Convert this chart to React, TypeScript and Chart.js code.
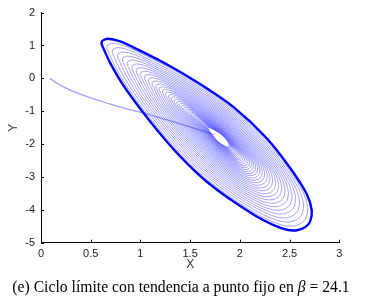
import React, { useEffect, useRef } from "react";
import { Chart, registerables } from "chart.js";

Chart.register(...registerables);

// Axis ticks
const xTicks = [0, 0.5, 1, 1.5, 2, 2.5, 3];
const yTicks = [-5, -4, -3, -2, -1, 0, 1, 2];

// Outer limit cycle, starting at the upper-left tip, clockwise
const limitCycleX = [0.619, 0.674, 0.795, 0.928, 1.264, 1.599, 1.934, 2.27, 2.504, 2.672, 2.723, 2.705, 2.655, 2.575, 2.474, 2.323, 2.152, 1.951, 1.75, 1.569, 1.398, 1.247, 1.096, 0.955, 0.815, 0.694, 0.634, 0.608];
const limitCycleY = [1.154, 1.205, 1.124, 0.944, 0.428, -0.172, -0.87, -1.821, -2.721, -3.519, -4.02, -4.365, -4.53, -4.62, -4.605, -4.44, -4.17, -3.78, -3.345, -2.88, -2.37, -1.86, -1.305, -0.75, -0.151, 0.479, 0.869, 1.064];

// Fixed point at the centre of the spiral
const fixedPointX = 1.8;
const fixedPointY = -1.8;

// Relative sizes of the spiral turns (1 = limit cycle), read along the ray to the lower-right tip
const turnScales = [0.955, 0.91, 0.866, 0.824, 0.784, 0.745, 0.708, 0.672, 0.638, 0.605, 0.573, 0.543, 0.514, 0.486, 0.46, 0.435, 0.411, 0.388, 0.366, 0.345, 0.325, 0.306, 0.288, 0.271, 0.255, 0.24, 0.226, 0.212, 0.199, 0.187, 0.175, 0.164, 0.153, 0.143, 0.133, 0.124, 0.116, 0.108, 0.101];

// Initial transient from (0.1, 0)
const approachX = [0.09, 0.171, 0.251, 0.342, 0.493, 0.661, 0.827, 1.046, 1.328, 1.599, 1.74];
const approachY = [0.0, -0.166, -0.3, -0.42, -0.585, -0.75, -0.9, -1.065, -1.32, -1.575, -1.71];

const inwardTicks = {
  id: "inwardTicks",
  afterDraw(chart: any) {
    const { ctx, chartArea, scales } = chart;
    ctx.save();
    ctx.strokeStyle = "#000";
    ctx.lineWidth = 1;
    ctx.beginPath();
    for (const v of xTicks) {
      const px = Math.round(scales.x.getPixelForValue(v)) + 0.5;
      ctx.moveTo(px, chartArea.bottom);
      ctx.lineTo(px, chartArea.bottom - 3);
    }
    for (const v of yTicks) {
      const py = Math.round(scales.y.getPixelForValue(v)) + 0.5;
      ctx.moveTo(chartArea.left, py);
      ctx.lineTo(chartArea.left + 3, py);
    }
    ctx.stroke();
    ctx.restore();
  },
};

export default function App() {
  const ref = useRef<HTMLCanvasElement | null>(null);

  useEffect(() => {
    if (!ref.current) return;
    Chart.defaults.font.family = "'Liberation Sans', Arial, sans-serif";

    const cycle = limitCycleX.map((x, i) => ({ x, y: limitCycleY[i] }));
    cycle.push({ x: limitCycleX[0], y: limitCycleY[0] });

    const turnSets = turnScales.map((s) => ({
      data: cycle.map((p) => ({
        x: fixedPointX + s * (p.x - fixedPointX),
        y: fixedPointY + s * (p.y - fixedPointY),
      })),
      borderColor: "rgba(30,30,255,0.45)",
      borderWidth: 0.9,
      pointRadius: 0,
      showLine: true,
      tension: 0.3,
      order: 3,
    }));

    const chart = new Chart(ref.current, {
      type: "scatter",
      data: {
        datasets: [
          {
            data: cycle,
            borderColor: "#0000ff",
            borderWidth: 2.4,
            pointRadius: 0,
            showLine: true,
            tension: 0.3,
            order: 1,
          },
          {
            data: approachX.map((x, i) => ({ x, y: approachY[i] })),
            borderColor: "rgba(40,40,255,0.45)",
            borderWidth: 1.3,
            pointRadius: 0,
            showLine: true,
            tension: 0.4,
            order: 2,
          },
          ...turnSets,
        ] as any,
      },
      options: {
        responsive: false,
        animation: false,
        devicePixelRatio: 1,
        layout: { padding: { top: 9.3, right: 31.7, left: 0, bottom: 0 } },
        plugins: { legend: { display: false }, tooltip: { enabled: false } },
        scales: {
          x: {
            type: "linear",
            min: 0,
            max: 3,
            afterFit: (s: any) => {
              s.height = 61.3;
            },
            afterBuildTicks: (s: any) => {
              s.ticks = xTicks.map((v) => ({ value: v }));
            },
            ticks: {
              font: { size: 11 },
              color: "#222",
              padding: 5,
              maxRotation: 0,
              autoSkip: false,
              callback: (v: any) => String(v),
            },
            grid: { display: false, drawTicks: false },
            border: { display: true, color: "#000", width: 1 },
            title: {
              display: true,
              text: "X",
              font: { size: 12 },
              color: "#333",
              padding: { top: 0, bottom: 32 },
            },
          },
          y: {
            type: "linear",
            min: -5,
            max: 2,
            afterFit: (s: any) => {
              s.width = 41;
            },
            afterBuildTicks: (s: any) => {
              s.ticks = yTicks.map((v) => ({ value: v }));
            },
            ticks: {
              font: { size: 11 },
              color: "#222",
              padding: 6,
              autoSkip: false,
              callback: (v: any) => String(v),
            },
            grid: { display: false, drawTicks: false },
            border: { display: true, color: "#000", width: 1 },
            title: {
              display: true,
              text: "Y",
              font: { size: 12 },
              color: "#333",
              padding: { top: 6, bottom: 0 },
            },
          },
        },
      },
      plugins: [inwardTicks],
    });
    return () => chart.destroy();
  }, []);

  return (
    <div style={{ position: "absolute", left: 0, top: 0, width: 371, height: 304, background: "#fff" }}>
      <canvas ref={ref} width={371} height={304} style={{ display: "block" }} />
      <div
        style={{
          position: "absolute",
          left: 0,
          top: 278,
          width: 362,
          textAlign: "center",
          fontFamily: "'Liberation Serif', 'DejaVu Serif', serif",
          fontSize: 15.7,
          color: "#000",
          whiteSpace: "nowrap",
        }}
      >
        (e) Ciclo límite con tendencia a punto fijo en <i>β</i> = 24.1
      </div>
    </div>
  );
}
